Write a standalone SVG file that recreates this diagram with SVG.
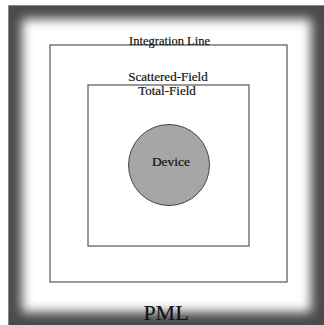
<svg xmlns="http://www.w3.org/2000/svg" width="324" height="325" viewBox="0 0 324 325">
<defs>
<filter id="blur" x="-20%" y="-20%" width="140%" height="140%"><feGaussianBlur stdDeviation="5.5"/></filter>
<clipPath id="frame"><rect x="8" y="5" width="316" height="320"/></clipPath>
<style>
.box{fill:none;stroke:#555;stroke-width:1.2}
.t{font-family:"Liberation Serif","Times New Roman",serif;fill:#111;text-anchor:middle;stroke:#111;stroke-width:0.2}
</style>
</defs>
<rect width="324" height="325" fill="#fff"/>
<g id="pml">
<g clip-path="url(#frame)">
<rect x="8" y="5" width="316" height="320" fill="#4a4a4a"/>
<rect x="22" y="19" width="289" height="293" fill="#fff" filter="url(#blur)"/>
</g>
<rect x="8.5" y="5.5" width="316" height="320" fill="none" stroke="#888" stroke-width="1"/>
<text class="t" x="166" y="320" font-size="22">PML</text>
</g>
<g id="integration-line">
<rect class="box" x="50" y="45" width="237" height="237"/>
<text class="t" x="169.5" y="45" font-size="12.5">Integration Line</text>
</g>
<g id="total-field">
<rect class="box" x="88" y="85" width="161" height="161"/>
<text class="t" x="168" y="81" font-size="13">Scattered-Field</text>
<text class="t" x="167" y="95" font-size="13">Total-Field</text>
</g>
<g id="device">
<circle cx="169" cy="165" r="40.5" fill="#a6a6a6" stroke="#444" stroke-width="1"/>
<text class="t" x="171" y="166" font-size="13.5">Device</text>
</g>
<g id="connectors"/>
</svg>
